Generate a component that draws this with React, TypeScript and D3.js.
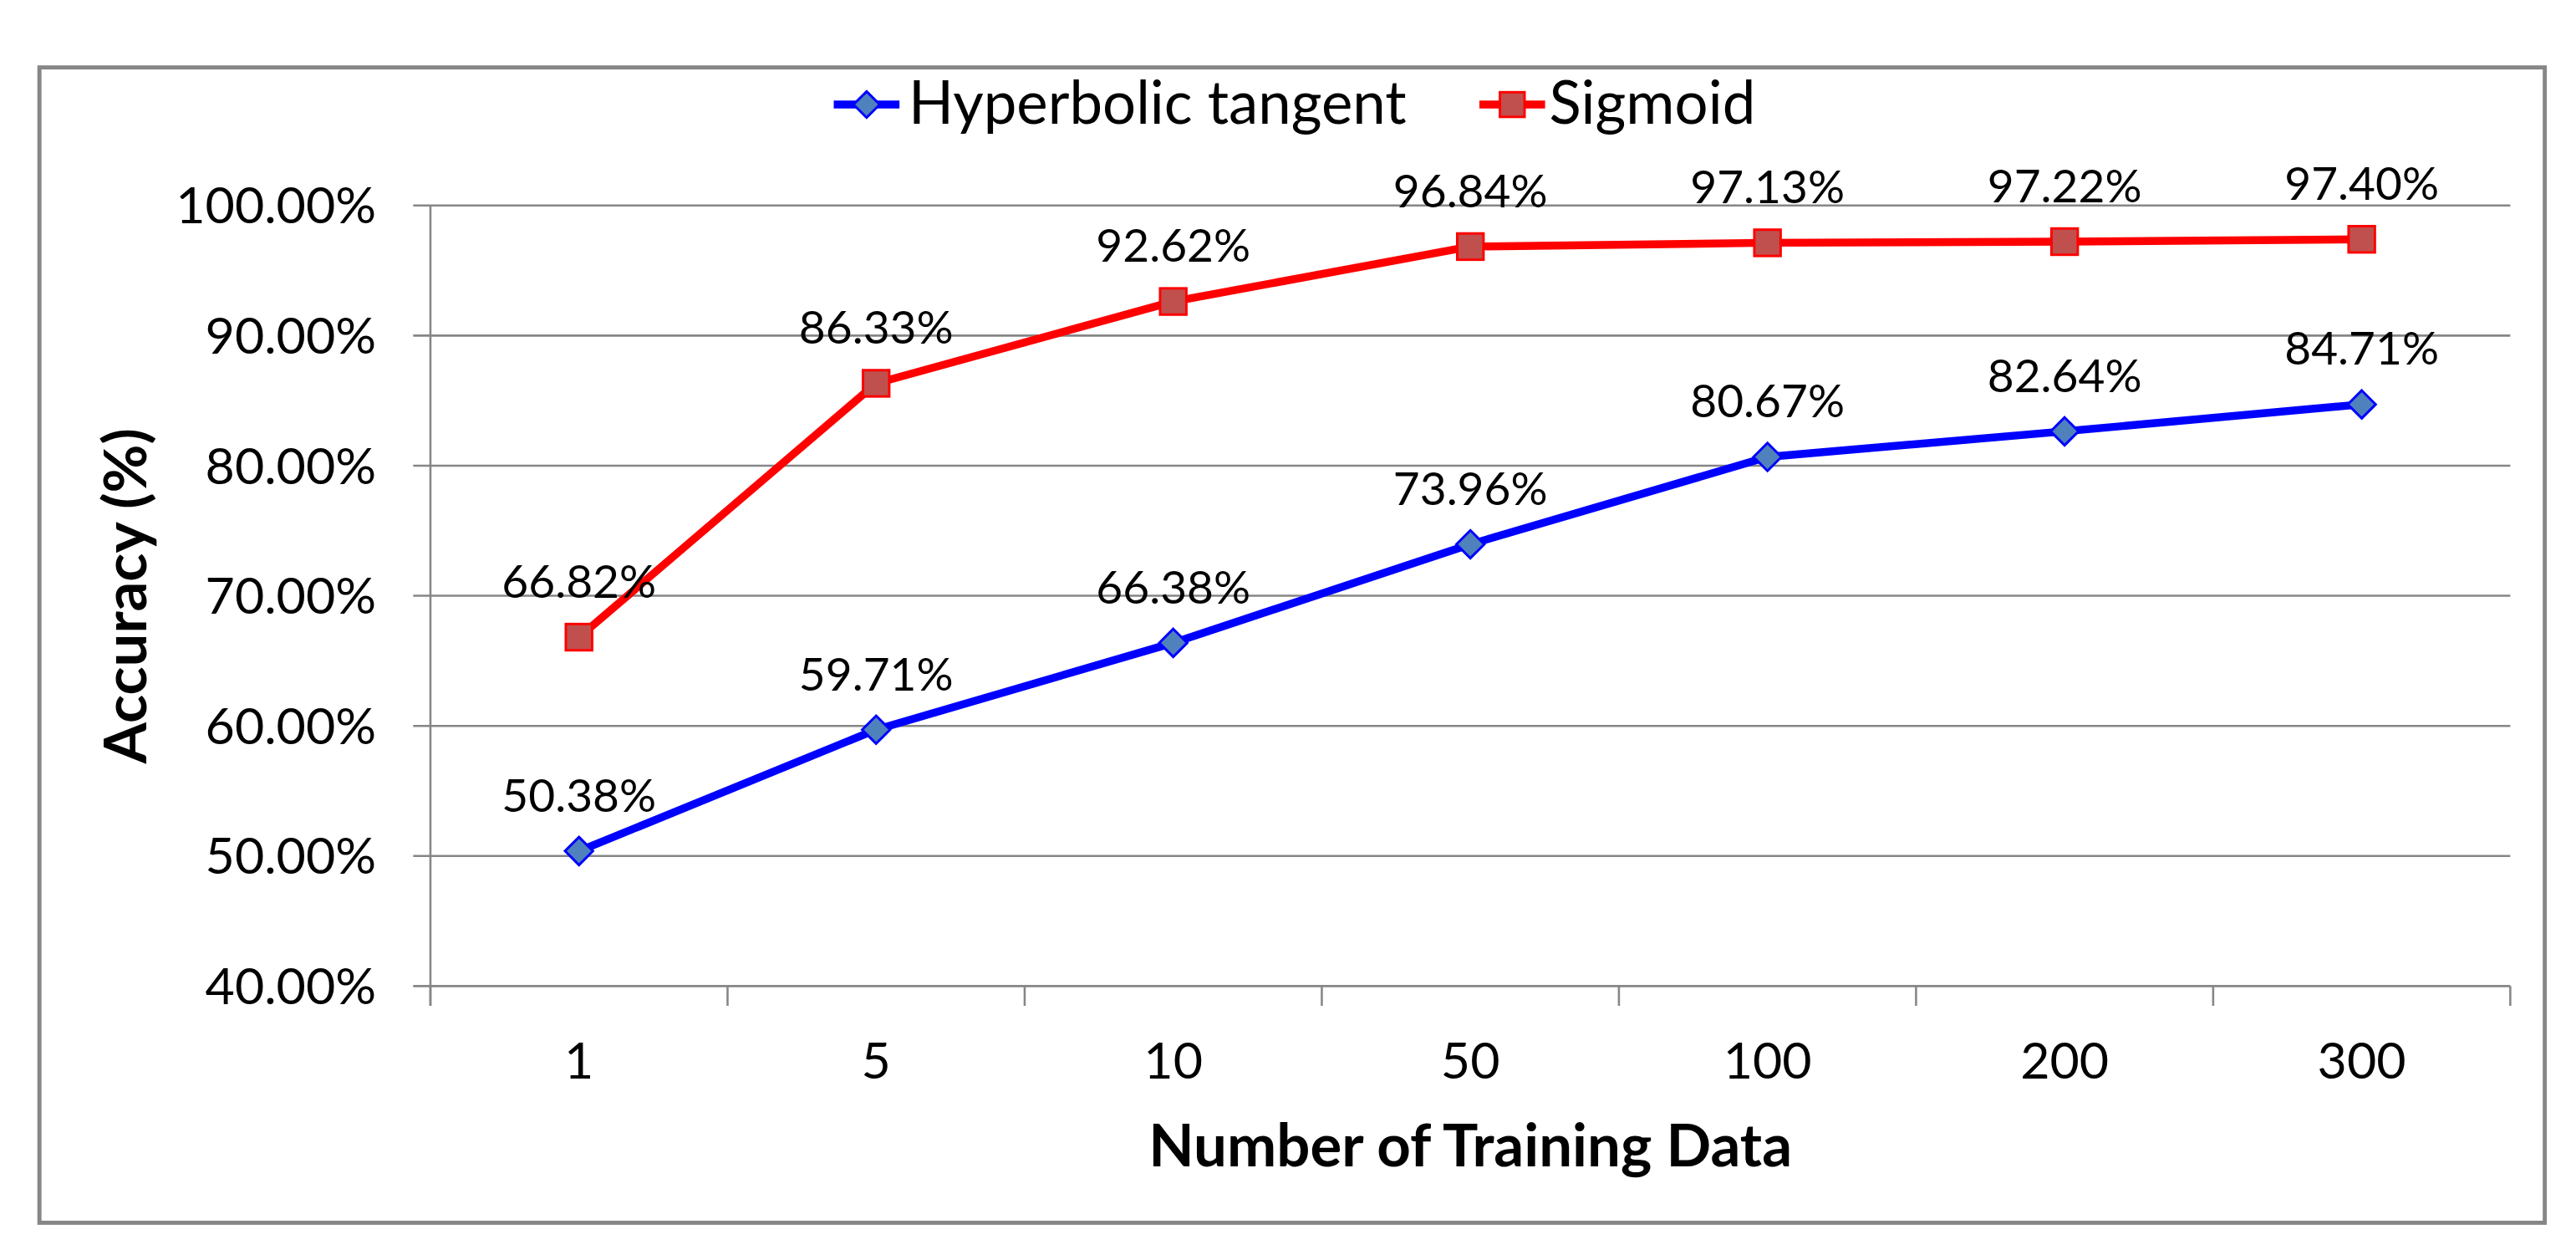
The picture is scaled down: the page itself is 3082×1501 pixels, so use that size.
import React, { useRef, useEffect } from 'react';
import { select, scaleBand, scaleLinear, line } from 'd3';

const categories = ['1', '5', '10', '50', '100', '200', '300'];
const tanhValues = [50.38, 59.71, 66.38, 73.96, 80.67, 82.64, 84.71];
const sigmoidValues = [66.82, 86.33, 92.62, 96.84, 97.13, 97.22, 97.4];
const yTicks = [40, 50, 60, 70, 80, 90, 100];
const seriesNames = ['Hyperbolic tangent', 'Sigmoid'];

const FONT = "Lato, 'Open Sans', sans-serif";
const GRID = '#868686';

const App: React.FC = () => {
  const svgRef = useRef<SVGSVGElement | null>(null);

  useEffect(() => {
    if (!svgRef.current) return;
    const svg = select(svgRef.current);
    svg.selectAll('*').remove();

    // layout in a 1568-wide coordinate space, scaled up by the viewBox
    const plot = { left: 262, right: 1528, top: 125, bottom: 600 };

    const x = scaleBand<string>().domain(categories).range([plot.left, plot.right]);
    const y = scaleLinear().domain([40, 100]).range([plot.bottom, plot.top]);
    const cx = (c: string) => (x(c) as number) + x.bandwidth() / 2;

    // outer frame
    svg.append('rect')
      .attr('x', 24).attr('y', 41).attr('width', 1525).attr('height', 703)
      .attr('fill', 'white').attr('stroke', '#868686').attr('stroke-width', 2.5);

    // gridlines + y ticks
    const gy = svg.append('g');
    yTicks.forEach(t => {
      gy.append('line')
        .attr('x1', 251.5).attr('x2', plot.right)
        .attr('y1', y(t)).attr('y2', y(t))
        .attr('stroke', GRID).attr('stroke-width', 1.3);
      gy.append('text')
        .attr('x', 229).attr('y', y(t) + 11)
        .attr('text-anchor', 'end')
        .attr('font-family', FONT).attr('font-size', 31).attr('fill', '#000')
        .text(`${t.toFixed(2)}%`);
    });

    // y axis line
    svg.append('line')
      .attr('x1', plot.left).attr('x2', plot.left)
      .attr('y1', plot.top).attr('y2', plot.bottom + 12)
      .attr('stroke', GRID).attr('stroke-width', 1.3);

    // x ticks at band edges
    const edges = categories.map(c => x(c) as number).concat([plot.right]);
    edges.forEach(e => {
      svg.append('line')
        .attr('x1', e).attr('x2', e)
        .attr('y1', plot.bottom).attr('y2', plot.bottom + 12)
        .attr('stroke', GRID).attr('stroke-width', 1.3);
    });

    categories.forEach(c => {
      svg.append('text')
        .attr('x', cx(c)).attr('y', 656.5)
        .attr('text-anchor', 'middle')
        .attr('font-family', FONT).attr('font-size', 31).attr('fill', '#000')
        .text(c);
    });

    // axis titles
    svg.append('text')
      .attr('x', (plot.left + plot.right) / 2).attr('y', 709.5)
      .attr('text-anchor', 'middle')
      .attr('font-family', FONT).attr('font-size', 36).attr('font-weight', 'bold')
      .text('Number of Training Data');
    svg.append('text')
      .attr('transform', `translate(89, ${(plot.top + plot.bottom) / 2}) rotate(-90)`)
      .attr('text-anchor', 'middle')
      .attr('font-family', FONT).attr('font-size', 36).attr('font-weight', 'bold')
      .text('Accuracy (%)');

    const diamond = (px: number, py: number, r: number) =>
      `M${px},${py - r}L${px + r},${py}L${px},${py + r}L${px - r},${py}Z`;

    const series = [
      { name: seriesNames[0], values: tanhValues, stroke: '#0000FF', fill: '#4F81BD', shape: 'diamond' },
      { name: seriesNames[1], values: sigmoidValues, stroke: '#FF0000', fill: '#C0504D', shape: 'square' },
    ];

    const lineGen = line<number>()
      .x((_, i) => cx(categories[i]))
      .y(d => y(d));

    series.forEach(s => {
      svg.append('path')
        .attr('d', lineGen(s.values) as string)
        .attr('fill', 'none').attr('stroke', s.stroke).attr('stroke-width', 4.8)
        .attr('stroke-linejoin', 'round');
    });

    series.forEach(s => {
      s.values.forEach((v, i) => {
        const px = cx(categories[i]);
        const py = y(v);
        if (s.shape === 'diamond') {
          svg.append('path').attr('d', diamond(px, py, 8.5))
            .attr('fill', s.fill).attr('stroke', s.stroke).attr('stroke-width', 1.5);
        } else {
          svg.append('rect').attr('x', px - 8).attr('y', py - 8).attr('width', 16).attr('height', 16)
            .attr('fill', s.fill).attr('stroke', s.stroke).attr('stroke-width', 1.5);
        }
        svg.append('text')
          .attr('x', px).attr('y', py - 24)
          .attr('text-anchor', 'middle')
          .attr('font-family', FONT).attr('font-size', 28).attr('fill', '#000')
          .text(`${v.toFixed(2)}%`);
      });
    });

    // legend
    const legendItems = [
      { s: series[0], x0: 507.5, x1: 547.5, text: 553 },
      { s: series[1], x0: 900.5, x1: 940.5, text: 943 },
    ];
    const ly = 63.6;
    legendItems.forEach(({ s, x0, x1, text }) => {
      svg.append('line')
        .attr('x1', x0).attr('x2', x1).attr('y1', ly).attr('y2', ly)
        .attr('stroke', s.stroke).attr('stroke-width', 4.8);
      const mx = (x0 + x1) / 2;
      if (s.shape === 'diamond') {
        svg.append('path').attr('d', diamond(mx, ly, 8))
          .attr('fill', s.fill).attr('stroke', s.stroke).attr('stroke-width', 1.5);
      } else {
        svg.append('rect').attr('x', mx - 7.5).attr('y', ly - 7.5).attr('width', 15).attr('height', 15)
          .attr('fill', s.fill).attr('stroke', s.stroke).attr('stroke-width', 1.5);
      }
      svg.append('text')
        .attr('x', text).attr('y', 75.4)
        .attr('font-family', FONT).attr('font-size', 36).attr('fill', '#000')
        .text(s.name);
    });
  }, []);

  return (
    <svg
      ref={svgRef}
      width={3082}
      height={1501}
      viewBox="0 0 1568 763.6"
      style={{ position: 'fixed', left: 0, top: 0, display: 'block', background: 'white' }}
    />
  );
};

export default App;
